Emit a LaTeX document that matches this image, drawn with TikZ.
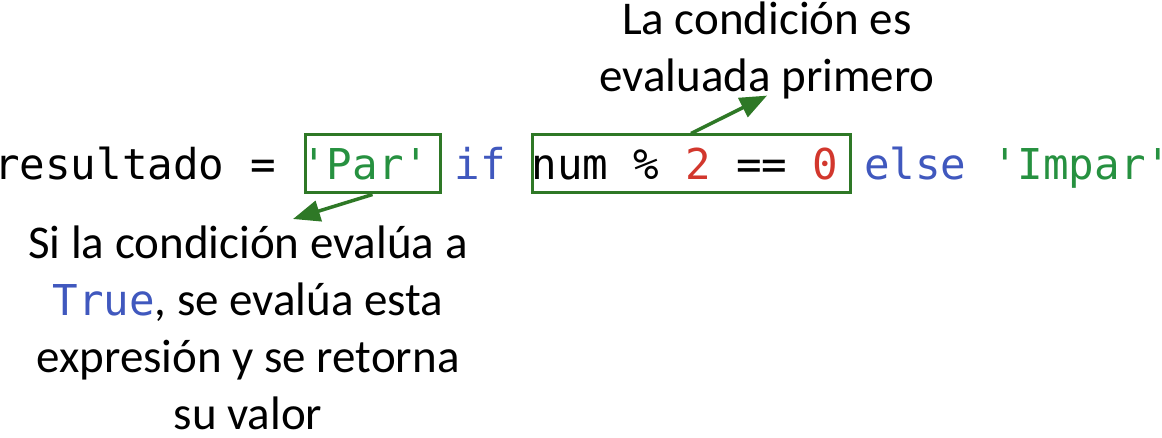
\documentclass[tikz,border=0pt]{standalone}
\usepackage{fontspec}
\setmainfont{Carlito}
\setmonofont{DejaVu Sans Mono}
\usetikzlibrary{arrows.meta}

\definecolor{boxgreen}{RGB}{46,120,38}
\definecolor{strgreen}{RGB}{38,145,64}
\definecolor{kwblue}{RGB}{64,88,190}
\definecolor{numred}{RGB}{210,55,45}

\tikzset{
    hlbox/.style={draw=boxgreen, line width=3pt, inner sep=0pt, rectangle},
    pointer/.style={draw=boxgreen, line width=3.5pt, -{Triangle[length=27pt 0, width=21pt 0]}, color=boxgreen},
    note/.style={align=center, inner sep=0pt, font=\fontsize{47}{57}\selectfont}
}

\begin{document}
\begin{tikzpicture}[x=1pt, y=1pt]
    \useasboundingbox (0,0) rectangle (1162,437);

    % the code line
    \node [anchor=base west, inner sep=0pt, font=\fontsize{42.5}{50}\ttfamily] (code_line) at (-6, 257)
    {resultado = \textcolor{strgreen}{'Par'} \textcolor{kwblue}{if} num \% \textcolor{numred}{2} == \textcolor{numred}{0} \textcolor{kwblue}{else} \textcolor{strgreen}{'Impar'}};

    % highlight boxes
    \node [hlbox, minimum width=135, minimum height=58] (box_par) at (372.5, 273) {};
    \node [hlbox, minimum width=318, minimum height=58] (box_cond) at (691, 273) {};

    % notes
    \node [note, anchor=north] (note_cond) at (767, 435) {La condición es\\evaluada primero};
    \node [note, anchor=north] (note_par) at (248, 211)
    {Si la condición evalúa a\\{\fontsize{42.5}{57}\ttfamily\textcolor{kwblue}{True}}, se evalúa esta\\expresión y se retorna\\su valor};

    \draw [pointer] (box_cond.north) -- ([shift={(0, 4)}]note_cond.south);
    \draw [pointer] (box_par.south) -- ([shift={(45, 7)}]note_par.north);

\end{tikzpicture}
\end{document}
